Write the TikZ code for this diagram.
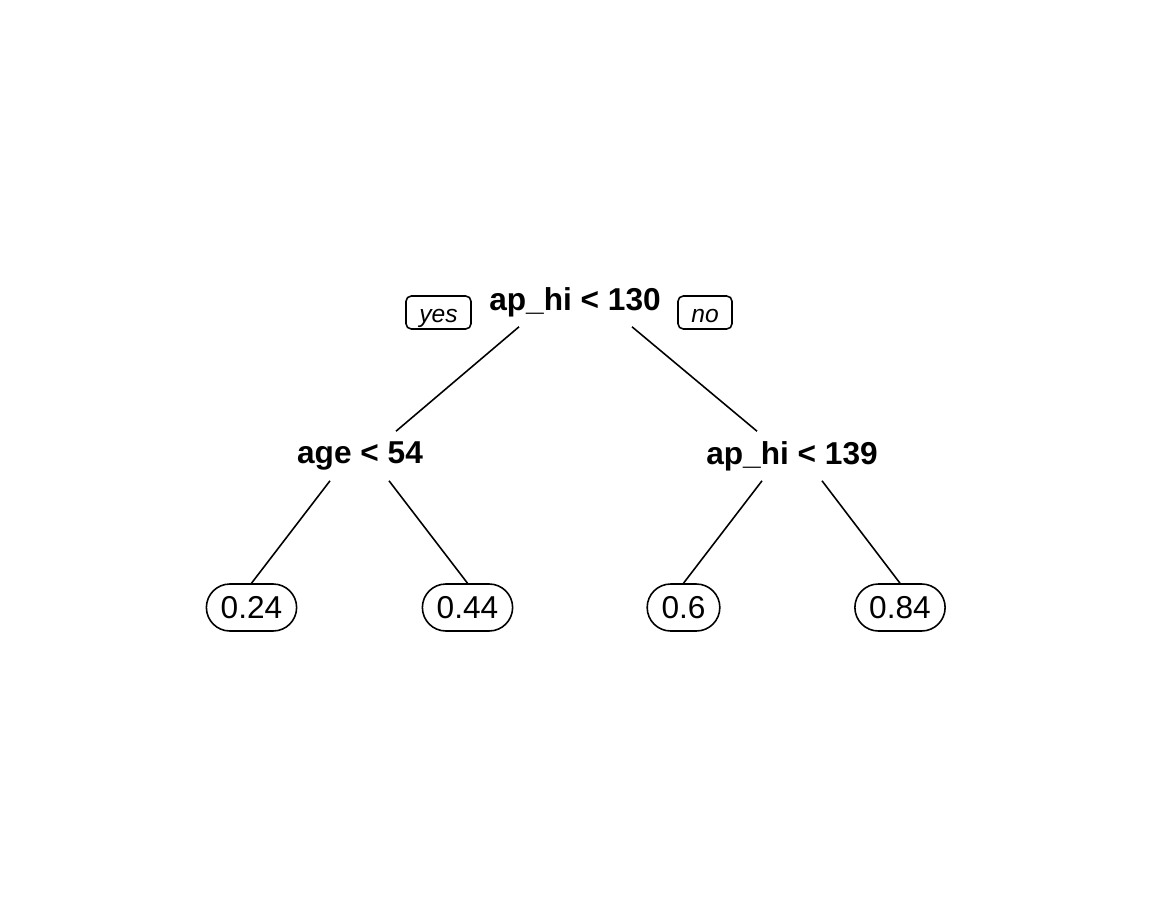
\documentclass[tikz,border=0pt]{standalone}
\usepackage{fontspec}
\setmainfont{Liberation Sans}
\usetikzlibrary{shapes.misc}

\begin{document}
\begin{tikzpicture}[
  line width=0.45pt,
  split/.style={font=\fontsize{9}{10}\selectfont\bfseries, minimum height=0.48cm, inner sep=0pt},
  leaf/.style={draw, rounded rectangle, font=\fontsize{9}{10}\selectfont, minimum height=0.47cm, inner xsep=0.115cm, inner ysep=0pt},
  yesno/.style={draw, rounded corners=1.5pt, font=\fontsize{7}{8}\selectfont\itshape, minimum height=0.33cm, inner ysep=0pt, text height=1.05ex, text depth=0pt}
]
 	\useasboundingbox (0,0) rectangle (11.52,-9.21);
 	% split nodes
 	\node [split] (root) at (5.75,-3.02) {ap\_hi < 130};
 	\node [split] (age) at (3.60,-4.56) {age < 54};
 	\node [split] (aphi) at (7.92,-4.56) {ap\_hi < 139};
 	\node [yesno, minimum width=0.65cm] (yes) at (4.385,-3.125) {yes};
 	\node [yesno, minimum width=0.54cm] (no) at (7.05,-3.125) {no};
 	% leaves
 	\node [leaf] (l1) at (2.515,-6.075) {0.24};
 	\node [leaf] (l2) at (4.675,-6.075) {0.44};
 	\node [leaf] (l3) at (6.835,-6.075) {0.6};
 	\node [leaf] (l4) at (9.00,-6.075) {0.84};
 	% branches
 	\draw ([xshift=-0.56cm]root.south) -- ([xshift=0.36cm]age.north);
 	\draw ([xshift=0.57cm]root.south) -- ([xshift=-0.35cm]aphi.north);
 	\draw ([xshift=-0.30cm]age.south) -- (l1.north);
 	\draw ([xshift=0.29cm]age.south) -- (l2.north);
 	\draw ([xshift=-0.30cm]aphi.south) -- (l3.north);
 	\draw ([xshift=0.30cm]aphi.south) -- (l4.north);
\end{tikzpicture}
\end{document}
